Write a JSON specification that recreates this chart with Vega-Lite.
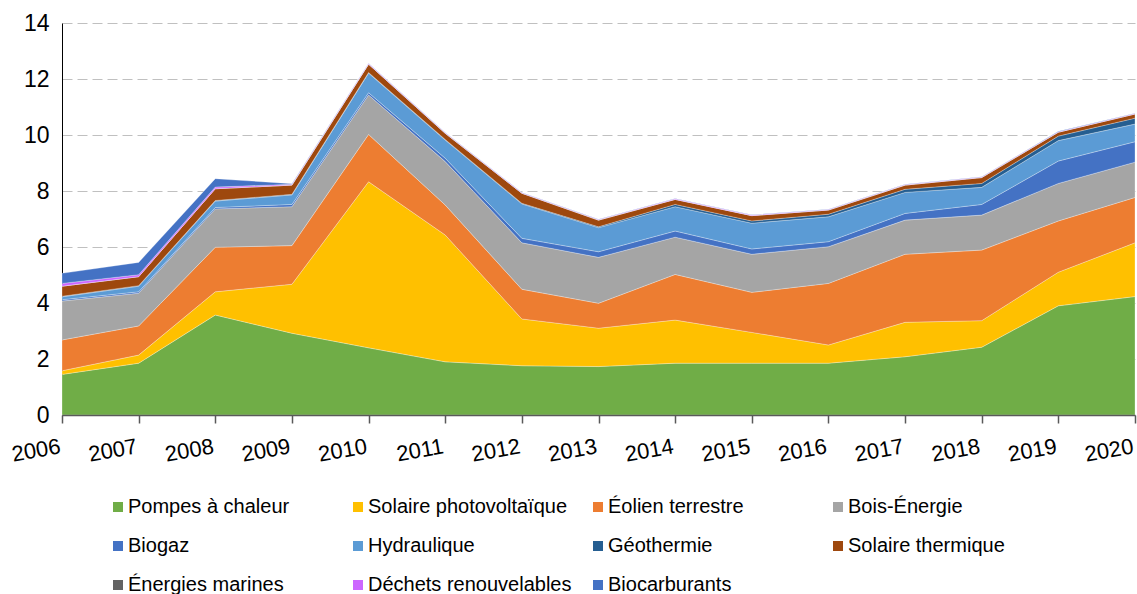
{
  "$schema": "https://vega.github.io/schema/vega-lite/v6.json",
  "width": 1073,
  "height": 392,
  "autosize": {"type": "none"},
  "padding": {"left": 62, "top": 23, "right": 2, "bottom": 179},
  "background": "white",
  "config": {
    "view": {"stroke": null},
    "font": "Liberation Sans"
  },
  "data": {
    "values": [
      {"an":2006,"k":1,"serie":"Pompes à chaleur","val":1.45},
      {"an":2006,"k":2,"serie":"Solaire photovoltaïque","val":0.13},
      {"an":2006,"k":3,"serie":"Éolien terrestre","val":1.10},
      {"an":2006,"k":4,"serie":"Bois-Énergie","val":1.39},
      {"an":2006,"k":5,"serie":"Biogaz","val":0.05},
      {"an":2006,"k":6,"serie":"Hydraulique","val":0.10},
      {"an":2006,"k":7,"serie":"Géothermie","val":0.02},
      {"an":2006,"k":8,"serie":"Solaire thermique","val":0.36},
      {"an":2006,"k":9,"serie":"Énergies marines","val":0},
      {"an":2006,"k":10,"serie":"Déchets renouvelables","val":0.10},
      {"an":2006,"k":11,"serie":"Biocarburants","val":0.36},

      {"an":2007,"k":1,"serie":"Pompes à chaleur","val":1.85},
      {"an":2007,"k":2,"serie":"Solaire photovoltaïque","val":0.29},
      {"an":2007,"k":3,"serie":"Éolien terrestre","val":1.04},
      {"an":2007,"k":4,"serie":"Bois-Énergie","val":1.17},
      {"an":2007,"k":5,"serie":"Biogaz","val":0.05},
      {"an":2007,"k":6,"serie":"Hydraulique","val":0.20},
      {"an":2007,"k":7,"serie":"Géothermie","val":0.02},
      {"an":2007,"k":8,"serie":"Solaire thermique","val":0.32},
      {"an":2007,"k":9,"serie":"Énergies marines","val":0},
      {"an":2007,"k":10,"serie":"Déchets renouvelables","val":0.07},
      {"an":2007,"k":11,"serie":"Biocarburants","val":0.44},

      {"an":2008,"k":1,"serie":"Pompes à chaleur","val":3.57},
      {"an":2008,"k":2,"serie":"Solaire photovoltaïque","val":0.83},
      {"an":2008,"k":3,"serie":"Éolien terrestre","val":1.59},
      {"an":2008,"k":4,"serie":"Bois-Énergie","val":1.37},
      {"an":2008,"k":5,"serie":"Biogaz","val":0.05},
      {"an":2008,"k":6,"serie":"Hydraulique","val":0.23},
      {"an":2008,"k":7,"serie":"Géothermie","val":0.02},
      {"an":2008,"k":8,"serie":"Solaire thermique","val":0.42},
      {"an":2008,"k":9,"serie":"Énergies marines","val":0},
      {"an":2008,"k":10,"serie":"Déchets renouvelables","val":0.06},
      {"an":2008,"k":11,"serie":"Biocarburants","val":0.30},

      {"an":2009,"k":1,"serie":"Pompes à chaleur","val":2.92},
      {"an":2009,"k":2,"serie":"Solaire photovoltaïque","val":1.75},
      {"an":2009,"k":3,"serie":"Éolien terrestre","val":1.38},
      {"an":2009,"k":4,"serie":"Bois-Énergie","val":1.39},
      {"an":2009,"k":5,"serie":"Biogaz","val":0.08},
      {"an":2009,"k":6,"serie":"Hydraulique","val":0.34},
      {"an":2009,"k":7,"serie":"Géothermie","val":0.02},
      {"an":2009,"k":8,"serie":"Solaire thermique","val":0.33},
      {"an":2009,"k":9,"serie":"Énergies marines","val":0},
      {"an":2009,"k":10,"serie":"Déchets renouvelables","val":0.03},
      {"an":2009,"k":11,"serie":"Biocarburants","val":0.02},

      {"an":2010,"k":1,"serie":"Pompes à chaleur","val":2.40},
      {"an":2010,"k":2,"serie":"Solaire photovoltaïque","val":5.93},
      {"an":2010,"k":3,"serie":"Éolien terrestre","val":1.69},
      {"an":2010,"k":4,"serie":"Bois-Énergie","val":1.41},
      {"an":2010,"k":5,"serie":"Biogaz","val":0.08},
      {"an":2010,"k":6,"serie":"Hydraulique","val":0.70},
      {"an":2010,"k":7,"serie":"Géothermie","val":0.02},
      {"an":2010,"k":8,"serie":"Solaire thermique","val":0.30},
      {"an":2010,"k":9,"serie":"Énergies marines","val":0},
      {"an":2010,"k":10,"serie":"Déchets renouvelables","val":0.02},
      {"an":2010,"k":11,"serie":"Biocarburants","val":0.01},

      {"an":2011,"k":1,"serie":"Pompes à chaleur","val":1.90},
      {"an":2011,"k":2,"serie":"Solaire photovoltaïque","val":4.53},
      {"an":2011,"k":3,"serie":"Éolien terrestre","val":1.07},
      {"an":2011,"k":4,"serie":"Bois-Énergie","val":1.55},
      {"an":2011,"k":5,"serie":"Biogaz","val":0.12},
      {"an":2011,"k":6,"serie":"Hydraulique","val":0.65},
      {"an":2011,"k":7,"serie":"Géothermie","val":0.02},
      {"an":2011,"k":8,"serie":"Solaire thermique","val":0.22},
      {"an":2011,"k":9,"serie":"Énergies marines","val":0},
      {"an":2011,"k":10,"serie":"Déchets renouvelables","val":0.02},
      {"an":2011,"k":11,"serie":"Biocarburants","val":0.01},

      {"an":2012,"k":1,"serie":"Pompes à chaleur","val":1.76},
      {"an":2012,"k":2,"serie":"Solaire photovoltaïque","val":1.67},
      {"an":2012,"k":3,"serie":"Éolien terrestre","val":1.06},
      {"an":2012,"k":4,"serie":"Bois-Énergie","val":1.66},
      {"an":2012,"k":5,"serie":"Biogaz","val":0.16},
      {"an":2012,"k":6,"serie":"Hydraulique","val":1.23},
      {"an":2012,"k":7,"serie":"Géothermie","val":0.02},
      {"an":2012,"k":8,"serie":"Solaire thermique","val":0.36},
      {"an":2012,"k":9,"serie":"Énergies marines","val":0},
      {"an":2012,"k":10,"serie":"Déchets renouvelables","val":0.02},
      {"an":2012,"k":11,"serie":"Biocarburants","val":0.01},

      {"an":2013,"k":1,"serie":"Pompes à chaleur","val":1.73},
      {"an":2013,"k":2,"serie":"Solaire photovoltaïque","val":1.37},
      {"an":2013,"k":3,"serie":"Éolien terrestre","val":0.89},
      {"an":2013,"k":4,"serie":"Bois-Énergie","val":1.64},
      {"an":2013,"k":5,"serie":"Biogaz","val":0.20},
      {"an":2013,"k":6,"serie":"Hydraulique","val":0.86},
      {"an":2013,"k":7,"serie":"Géothermie","val":0.03},
      {"an":2013,"k":8,"serie":"Solaire thermique","val":0.24},
      {"an":2013,"k":9,"serie":"Énergies marines","val":0},
      {"an":2013,"k":10,"serie":"Déchets renouvelables","val":0.02},
      {"an":2013,"k":11,"serie":"Biocarburants","val":0.01},

      {"an":2014,"k":1,"serie":"Pompes à chaleur","val":1.85},
      {"an":2014,"k":2,"serie":"Solaire photovoltaïque","val":1.54},
      {"an":2014,"k":3,"serie":"Éolien terrestre","val":1.63},
      {"an":2014,"k":4,"serie":"Bois-Énergie","val":1.33},
      {"an":2014,"k":5,"serie":"Biogaz","val":0.22},
      {"an":2014,"k":6,"serie":"Hydraulique","val":0.87},
      {"an":2014,"k":7,"serie":"Géothermie","val":0.08},
      {"an":2014,"k":8,"serie":"Solaire thermique","val":0.18},
      {"an":2014,"k":9,"serie":"Énergies marines","val":0},
      {"an":2014,"k":10,"serie":"Déchets renouvelables","val":0.02},
      {"an":2014,"k":11,"serie":"Biocarburants","val":0.01},

      {"an":2015,"k":1,"serie":"Pompes à chaleur","val":1.85},
      {"an":2015,"k":2,"serie":"Solaire photovoltaïque","val":1.10},
      {"an":2015,"k":3,"serie":"Éolien terrestre","val":1.43},
      {"an":2015,"k":4,"serie":"Bois-Énergie","val":1.36},
      {"an":2015,"k":5,"serie":"Biogaz","val":0.19},
      {"an":2015,"k":6,"serie":"Hydraulique","val":0.92},
      {"an":2015,"k":7,"serie":"Géothermie","val":0.08},
      {"an":2015,"k":8,"serie":"Solaire thermique","val":0.19},
      {"an":2015,"k":9,"serie":"Énergies marines","val":0},
      {"an":2015,"k":10,"serie":"Déchets renouvelables","val":0.02},
      {"an":2015,"k":11,"serie":"Biocarburants","val":0.01},

      {"an":2016,"k":1,"serie":"Pompes à chaleur","val":1.85},
      {"an":2016,"k":2,"serie":"Solaire photovoltaïque","val":0.65},
      {"an":2016,"k":3,"serie":"Éolien terrestre","val":2.20},
      {"an":2016,"k":4,"serie":"Bois-Énergie","val":1.31},
      {"an":2016,"k":5,"serie":"Biogaz","val":0.18},
      {"an":2016,"k":6,"serie":"Hydraulique","val":0.89},
      {"an":2016,"k":7,"serie":"Géothermie","val":0.09},
      {"an":2016,"k":8,"serie":"Solaire thermique","val":0.15},
      {"an":2016,"k":9,"serie":"Énergies marines","val":0},
      {"an":2016,"k":10,"serie":"Déchets renouvelables","val":0.02},
      {"an":2016,"k":11,"serie":"Biocarburants","val":0.01},

      {"an":2017,"k":1,"serie":"Pompes à chaleur","val":2.08},
      {"an":2017,"k":2,"serie":"Solaire photovoltaïque","val":1.23},
      {"an":2017,"k":3,"serie":"Éolien terrestre","val":2.43},
      {"an":2017,"k":4,"serie":"Bois-Énergie","val":1.22},
      {"an":2017,"k":5,"serie":"Biogaz","val":0.24},
      {"an":2017,"k":6,"serie":"Hydraulique","val":0.75},
      {"an":2017,"k":7,"serie":"Géothermie","val":0.11},
      {"an":2017,"k":8,"serie":"Solaire thermique","val":0.15},
      {"an":2017,"k":9,"serie":"Énergies marines","val":0},
      {"an":2017,"k":10,"serie":"Déchets renouvelables","val":0.02},
      {"an":2017,"k":11,"serie":"Biocarburants","val":0.01},

      {"an":2018,"k":1,"serie":"Pompes à chaleur","val":2.42},
      {"an":2018,"k":2,"serie":"Solaire photovoltaïque","val":0.95},
      {"an":2018,"k":3,"serie":"Éolien terrestre","val":2.52},
      {"an":2018,"k":4,"serie":"Bois-Énergie","val":1.25},
      {"an":2018,"k":5,"serie":"Biogaz","val":0.38},
      {"an":2018,"k":6,"serie":"Hydraulique","val":0.61},
      {"an":2018,"k":7,"serie":"Géothermie","val":0.14},
      {"an":2018,"k":8,"serie":"Solaire thermique","val":0.21},
      {"an":2018,"k":9,"serie":"Énergies marines","val":0},
      {"an":2018,"k":10,"serie":"Déchets renouvelables","val":0.02},
      {"an":2018,"k":11,"serie":"Biocarburants","val":0.01},

      {"an":2019,"k":1,"serie":"Pompes à chaleur","val":3.90},
      {"an":2019,"k":2,"serie":"Solaire photovoltaïque","val":1.20},
      {"an":2019,"k":3,"serie":"Éolien terrestre","val":1.83},
      {"an":2019,"k":4,"serie":"Bois-Énergie","val":1.34},
      {"an":2019,"k":5,"serie":"Biogaz","val":0.80},
      {"an":2019,"k":6,"serie":"Hydraulique","val":0.73},
      {"an":2019,"k":7,"serie":"Géothermie","val":0.16},
      {"an":2019,"k":8,"serie":"Solaire thermique","val":0.14},
      {"an":2019,"k":9,"serie":"Énergies marines","val":0},
      {"an":2019,"k":10,"serie":"Déchets renouvelables","val":0.02},
      {"an":2019,"k":11,"serie":"Biocarburants","val":0.01},

      {"an":2020,"k":1,"serie":"Pompes à chaleur","val":4.23},
      {"an":2020,"k":2,"serie":"Solaire photovoltaïque","val":1.92},
      {"an":2020,"k":3,"serie":"Éolien terrestre","val":1.62},
      {"an":2020,"k":4,"serie":"Bois-Énergie","val":1.26},
      {"an":2020,"k":5,"serie":"Biogaz","val":0.73},
      {"an":2020,"k":6,"serie":"Hydraulique","val":0.63},
      {"an":2020,"k":7,"serie":"Géothermie","val":0.21},
      {"an":2020,"k":8,"serie":"Solaire thermique","val":0.15},
      {"an":2020,"k":9,"serie":"Énergies marines","val":0},
      {"an":2020,"k":10,"serie":"Déchets renouvelables","val":0.02},
      {"an":2020,"k":11,"serie":"Biocarburants","val":0.01}
    ]
  },
  "mark": {"type": "area", "interpolate": "linear", "stroke": "white", "strokeWidth": 0.4, "strokeOpacity": 0.7},
  "encoding": {
    "x": {
      "field": "an",
      "type": "quantitative",
      "scale": {"domain": [2006, 2020], "nice": false, "zero": false},
      "axis": {
        "title": null,
        "values": [2006,2007,2008,2009,2010,2011,2012,2013,2014,2015,2016,2017,2018,2019,2020],
        "format": "d",
        "grid": false,
        "zindex": 1,
        "domainColor": "#595959",
        "domainWidth": 1.5,
        "tickColor": "#595959",
        "tickWidth": 1.5,
        "tickSize": 8,
        "labelFontSize": 22,
        "labelColor": "#000000",
        "labelAngle": -10,
        "labelAlign": "right",
        "labelBaseline": "top",
        "labelPadding": 13,
        "labelOffset": -4,
        "labelOverlap": false,
        "labelFlush": false,
        "labelBound": false
      }
    },
    "y": {
      "field": "val",
      "type": "quantitative",
      "stack": "zero",
      "scale": {"domain": [0, 14], "nice": false},
      "axis": {
        "title": null,
        "values": [0, 2, 4, 6, 8, 10, 12, 14],
        "ticks": false,
        "domainColor": "#000000",
        "domainWidth": 1,
        "grid": true,
        "gridColor": "#C0C0C0",
        "gridDash": [10, 5],
        "gridWidth": 1,
        "labelFontSize": 23,
        "labelColor": "#000000",
        "labelPadding": 13
      }
    },
    "color": {
      "field": "serie",
      "type": "nominal",
      "scale": {
        "domain": ["Pompes à chaleur", "Solaire photovoltaïque", "Éolien terrestre", "Bois-Énergie", "Biogaz", "Hydraulique", "Géothermie", "Solaire thermique", "Énergies marines", "Déchets renouvelables", "Biocarburants"],
        "range": ["#70AD47", "#FFC000", "#ED7D31", "#A5A5A5", "#4472C4", "#5B9BD5", "#255E91", "#9E480E", "#636363", "#CC66FF", "#4472C4"]
      },
      "legend": {
        "title": null,
        "orient": "none",
        "legendX": 46,
        "legendY": 474,
        "direction": "horizontal",
        "columns": 4,
        "gridAlign": "all",
        "columnPadding": 16,
        "rowPadding": 19,
        "padding": 0,
        "symbolType": "square",
        "symbolSize": 100,
        "symbolStrokeWidth": 0,
        "symbolOpacity": 1,
        "labelFontSize": 20,
        "labelColor": "#000000",
        "labelOffset": 0,
        "labelLimit": 400
      }
    },
    "order": {"field": "k", "type": "quantitative"}
  }
}
